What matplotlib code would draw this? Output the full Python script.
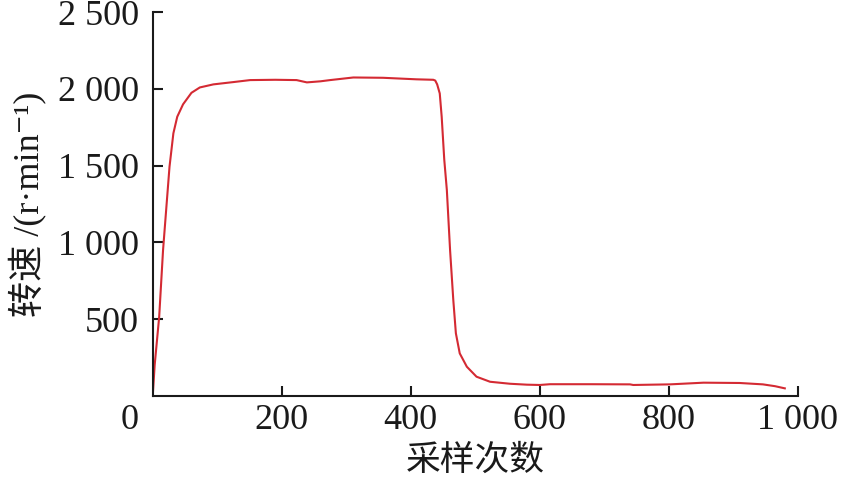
import matplotlib
matplotlib.use("Agg")
import matplotlib.pyplot as plt
import matplotlib.transforms as mtransforms

plt.rcParams['font.family'] = ['Liberation Serif', 'Noto Sans CJK SC', 'DejaVu Serif']

# Data
sample_idx = [0, 3, 10, 16, 22, 26, 32, 38, 47, 60, 73, 94, 125, 151, 190, 223, 239,
              260, 275, 311, 357, 409, 435, 438, 441, 445, 448, 452, 456, 461, 466, 470,
              476, 487, 502, 523, 554, 580, 600, 616, 680, 740, 745, 802, 854, 910,
              946, 965, 980]
speed = [0, 200, 515, 950, 1276, 1493, 1711, 1819, 1900, 1975, 2010, 2030, 2045, 2058,
         2060, 2058, 2043, 2050, 2058, 2075, 2073, 2063, 2060, 2055, 2030, 1971, 1819, 1539,
         1341, 950, 624, 407, 276, 189, 124, 91, 78, 72, 70, 75, 75, 74, 70, 74, 85,
         83, 74, 62, 48]

xticks = [0, 200, 400, 600, 800, 1000]
xtick_labels = ['0', '200', '400', '600', '800', '1 000']
yticks = [500, 1000, 1500, 2000, 2500]
ytick_labels = ['500', '1 000', '1 500', '2 000', '2 500']

fig = plt.figure(figsize=(8.42, 4.92), dpi=100)
ax = fig.add_axes([0.1814, 0.1957, 0.9474 - 0.1814, 0.975 - 0.1957])

ax.plot(sample_idx, speed, color='#d42a33', lw=1.5)

ax.set_xlim(0, 1000)
ax.set_ylim(0, 2500)
ax.set_xticks(xticks)
ax.set_xticklabels(xtick_labels)
ax.set_yticks(yticks)
ax.set_yticklabels(ytick_labels)

for s in ['top', 'right']:
    ax.spines[s].set_visible(False)
for s in ['left', 'bottom']:
    ax.spines[s].set_linewidth(1.5)
    ax.spines[s].set_color('#1a1a1a')

ax.tick_params(axis='both', direction='in', length=7, width=1.5, color='#1a1a1a',
               labelsize=26, labelcolor='#1a1a1a')
ax.tick_params(axis='x', pad=6)
ax.tick_params(axis='y', pad=10)

# shift the "0" label left of the corner
lbl0 = ax.get_xticklabels()[0]
lbl0.set_transform(lbl0.get_transform() + mtransforms.ScaledTranslation(-23 / 100, 0, fig.dpi_scale_trans))
ax.xaxis.get_major_ticks()[0].tick1line.set_visible(False)

ax.set_xlabel('采样次数', fontsize=25, family=['Noto Sans CJK SC'], color='#1a1a1a', labelpad=4)
ax.set_ylabel('转速 /(r·min⁻¹)', fontsize=26, color='#1a1a1a', labelpad=8,
              family=['Liberation Serif', 'Noto Sans CJK SC', 'DejaVu Serif'])

fig.savefig('out.png', dpi=100, facecolor='white')
